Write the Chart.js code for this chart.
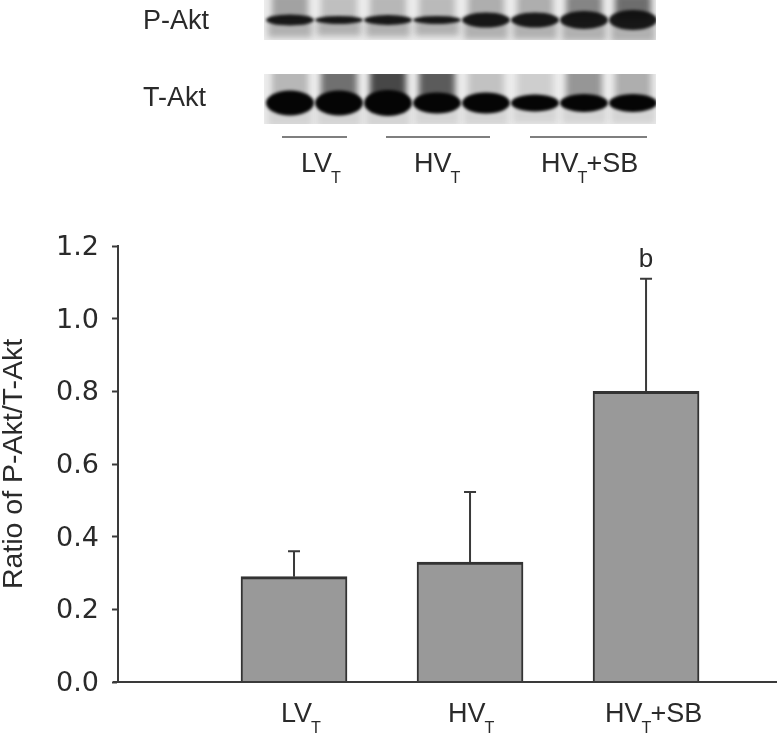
<!DOCTYPE html>
<html>
<head>
<meta charset="utf-8">
<style>
  html, body { margin: 0; padding: 0; background: #fff; }
  #wrap { width: 777px; height: 733px; position: relative; overflow: hidden; }
</style>
<script src="https://cdn.jsdelivr.net/npm/chart.js@4/dist/chart.umd.min.js"></script>
</head>
<body>
<div id="wrap"><canvas id="myChart" width="777" height="733"></canvas></div>
<script>
// bar chart values
const groupMain = ["LV", "HV", "HV"];
const groupSub = ["T", "T", "T"];
const groupTail = ["", "", "+SB"];
const barSlots = [1, 2, 3];
const ratioMean = [0.29, 0.33, 0.80];
const ratioUpper = [0.36, 0.523, 1.11];
const barMarks = ["", "", "b"];
const yTicks = [0, 0.2, 0.4, 0.6, 0.8, 1.0, 1.2];

// blot bands, one entry per lane
const pAktBand = [11, 8, 10, 8, 15, 15, 18, 20];
const pAktSmear = [0.36, 0.22, 0.26, 0.24, 0.3, 0.3, 0.5, 0.62];
const tAktBand = [25, 25, 26, 21, 21, 17, 18, 18];
const tAktSmear = [0.26, 0.6, 0.8, 0.7, 0.2, 0.14, 0.42, 0.3];

const INK = "#3a3a3a";
const SANS = '"Liberation Sans", Arial, sans-serif';

function drawBlot(ctx, top, height, bandY, bands, smears, darkness, lowerShade) {
  ctx.save();
  ctx.beginPath();
  ctx.rect(264, top, 392, height);
  ctx.clip();
  ctx.fillStyle = "#ececec";
  ctx.fillRect(264, top, 392, height);
  ctx.filter = "blur(3px)";
  for (let i = 0; i < bands.length; i += 1) {
    const cx = 290 + i * 49;
    ctx.fillStyle = `rgba(30,30,30,${smears[i]})`;
    ctx.fillRect(cx - 18, top - 6, 36, bandY - top + 6);
    ctx.fillStyle = `rgba(40,40,40,${lowerShade})`;
    ctx.fillRect(cx - 22, bandY, 44, bands[i] / 2 + 12);
  }
  ctx.filter = "blur(1.6px)";
  for (let i = 0; i < bands.length; i += 1) {
    const cx = 290 + i * 49;
    ctx.fillStyle = darkness;
    ctx.beginPath();
    ctx.ellipse(cx, bandY, 24, bands[i] / 2, 0, 0, Math.PI * 2);
    ctx.fill();
  }
  ctx.restore();
}

function drawGroupLabel(ctx, x, baseline, main, sub, tail, size) {
  ctx.textAlign = "left";
  ctx.textBaseline = "alphabetic";
  ctx.font = `${size}px ${SANS}`;
  ctx.fillText(main, x, baseline);
  const w1 = ctx.measureText(main).width;
  ctx.font = `${size * 0.6}px ${SANS}`;
  ctx.fillText(sub, x + w1 - 1, baseline + 11);
  const w2 = ctx.measureText(sub).width;
  ctx.font = `${size}px ${SANS}`;
  ctx.fillText(tail, x + w1 + w2 - 2, baseline);
}

const blotPlugin = {
  id: "blot",
  beforeDraw(chart) {
    const { ctx } = chart;
    drawBlot(ctx, 0, 40, 20, pAktBand, pAktSmear, "rgba(10,10,10,0.92)", 0.3);
    drawBlot(ctx, 74, 50, 103, tAktBand, tAktSmear, "#050505", 0.12);

    ctx.save();
    ctx.fillStyle = "#2a2a2a";
    ctx.textAlign = "left";
    ctx.textBaseline = "alphabetic";
    ctx.font = `27px ${SANS}`;
    ctx.fillText("P-Akt", 143, 29);
    ctx.fillText("T-Akt", 143, 106);

    ctx.strokeStyle = "#555";
    ctx.lineWidth = 1.5;
    [[282, 347], [386, 490], [530, 647]].forEach(([a, b]) => {
      ctx.beginPath();
      ctx.moveTo(a, 137);
      ctx.lineTo(b, 137);
      ctx.stroke();
    });
    [301, 414, 541].forEach((x, i) => {
      drawGroupLabel(ctx, x, 172, groupMain[i], groupSub[i], groupTail[i], 27);
    });
    ctx.restore();
  },
};

const barExtras = {
  id: "barExtras",
  afterDatasetsDraw(chart) {
    const { ctx, scales: { x, y } } = chart;
    ctx.save();
    ctx.strokeStyle = INK;
    ctx.fillStyle = "#2a2a2a";
    ctx.lineWidth = 2;
    barSlots.forEach((slot, i) => {
      const px = x.getPixelForValue(slot);
      const top = y.getPixelForValue(ratioUpper[i]);
      const bottom = y.getPixelForValue(ratioMean[i]);
      ctx.beginPath();
      ctx.moveTo(px, bottom);
      ctx.lineTo(px, top);
      ctx.moveTo(px - 6, top);
      ctx.lineTo(px + 6, top);
      ctx.stroke();
      if (barMarks[i]) {
        ctx.font = `26px ${SANS}`;
        ctx.textAlign = "center";
        ctx.textBaseline = "alphabetic";
        ctx.fillText(barMarks[i], px, top - 12);
      }
    });
    // x axis line runs out past the tick at zero
    ctx.beginPath();
    ctx.moveTo(113, y.bottom);
    ctx.lineTo(chart.width, y.bottom);
    ctx.stroke();
    const offsets = [-13, -22, -41];
    barSlots.forEach((slot, i) => {
      const px = x.getPixelForValue(slot);
      drawGroupLabel(ctx, px + offsets[i], 722, groupMain[i], groupSub[i], groupTail[i], 27);
    });
    ctx.restore();
  },
};

const ctx = document.getElementById("myChart").getContext("2d");

const chart = new Chart(ctx, {
  type: "bar",
  data: {
    datasets: [{
      label: "Ratio of P-Akt/T-Akt",
      data: barSlots.map((slot, i) => ({ x: slot, y: ratioMean[i] })),
      backgroundColor: "#999999",
      borderColor: "#333333",
      borderWidth: { top: 3, left: 2, right: 2, bottom: 0 },
      barThickness: 106,
    }],
  },
  plugins: [blotPlugin, barExtras],
  options: {
    responsive: false,
    animation: false,
    layout: { padding: { top: 246, right: 0, bottom: 0, left: 0 } },
    plugins: { legend: { display: false }, tooltip: { enabled: false } },
    scales: {
      x: {
        type: "linear",
        offset: false,
        min: 0,
        max: 3.744,
        afterFit(scale) { scale.height = 51; },
        grid: { display: false, drawTicks: false },
        border: { display: false },
        ticks: { display: false },
      },
      y: {
        min: 0,
        max: 1.2,
        afterFit(scale) { scale.width = 118; },
        afterBuildTicks(scale) { scale.ticks = yTicks.map((value) => ({ value })); },
        grid: { drawOnChartArea: false, drawTicks: true, tickLength: 6, tickWidth: 2, tickColor: INK },
        border: { display: true, color: INK, width: 2 },
        ticks: {
          color: "#2a2a2a",
          padding: 13,
          labelOffset: 2,
          font: { family: "DejaVu Sans", size: 27 },
          callback: (v) => Number(v).toFixed(1),
        },
        title: {
          display: true,
          text: "Ratio of P-Akt/T-Akt",
          color: "#2a2a2a",
          font: { family: SANS, size: 28.5 },
          padding: { top: -3, bottom: 0 },
        },
      },
    },
  },
});
</script>
</body>
</html>
